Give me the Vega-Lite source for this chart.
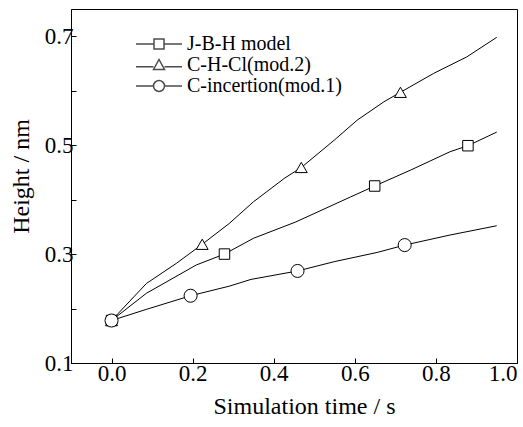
{
  "$schema": "https://vega.github.io/schema/vega-lite/v6.json",
  "width": 446,
  "height": 354,
  "autosize": {"type": "none"},
  "padding": {"left": 71, "top": 9, "right": 6, "bottom": 64},
  "background": "white",
  "config": {
    "font": "Liberation Serif",
    "view": {"stroke": "black", "strokeWidth": 1},
    "axis": {
      "domainColor": "black",
      "domainWidth": 1,
      "tickColor": "black",
      "tickWidth": 1,
      "tickSize": -5,
      "grid": false,
      "labelColor": "black",
      "titleColor": "black",
      "labelFont": "Liberation Serif",
      "titleFont": "Liberation Serif",
      "labelFontSize": 23,
      "titleFontSize": 24,
      "titleFontWeight": "normal"
    }
  },
  "datasets": {
    "curves": [
      {"model": "J-B-H model", "time": 0.0, "height": 0.178},
      {"model": "J-B-H model", "time": 0.086, "height": 0.228},
      {"model": "J-B-H model", "time": 0.209, "height": 0.28},
      {"model": "J-B-H model", "time": 0.2785, "height": 0.3},
      {"model": "J-B-H model", "time": 0.35, "height": 0.329},
      {"model": "J-B-H model", "time": 0.4545, "height": 0.359},
      {"model": "J-B-H model", "time": 0.5897, "height": 0.405},
      {"model": "J-B-H model", "time": 0.649, "height": 0.425},
      {"model": "J-B-H model", "time": 0.737, "height": 0.454},
      {"model": "J-B-H model", "time": 0.835, "height": 0.488},
      {"model": "J-B-H model", "time": 0.879, "height": 0.499},
      {"model": "J-B-H model", "time": 0.95, "height": 0.524},
      {"model": "C-H-Cl(mod.2)", "time": 0.0, "height": 0.178},
      {"model": "C-H-Cl(mod.2)", "time": 0.086, "height": 0.246},
      {"model": "C-H-Cl(mod.2)", "time": 0.16, "height": 0.283},
      {"model": "C-H-Cl(mod.2)", "time": 0.2236, "height": 0.318},
      {"model": "C-H-Cl(mod.2)", "time": 0.29, "height": 0.356},
      {"model": "C-H-Cl(mod.2)", "time": 0.35, "height": 0.396},
      {"model": "C-H-Cl(mod.2)", "time": 0.426, "height": 0.439},
      {"model": "C-H-Cl(mod.2)", "time": 0.468, "height": 0.459},
      {"model": "C-H-Cl(mod.2)", "time": 0.549, "height": 0.509},
      {"model": "C-H-Cl(mod.2)", "time": 0.606, "height": 0.546},
      {"model": "C-H-Cl(mod.2)", "time": 0.6715, "height": 0.5795},
      {"model": "C-H-Cl(mod.2)", "time": 0.7125, "height": 0.597},
      {"model": "C-H-Cl(mod.2)", "time": 0.794, "height": 0.6316},
      {"model": "C-H-Cl(mod.2)", "time": 0.876, "height": 0.662},
      {"model": "C-H-Cl(mod.2)", "time": 0.95, "height": 0.698},
      {"model": "C-incertion(mod.1)", "time": 0.0, "height": 0.178},
      {"model": "C-incertion(mod.1)", "time": 0.086, "height": 0.1985},
      {"model": "C-incertion(mod.1)", "time": 0.195, "height": 0.2235},
      {"model": "C-incertion(mod.1)", "time": 0.29, "height": 0.241},
      {"model": "C-incertion(mod.1)", "time": 0.344, "height": 0.2535},
      {"model": "C-incertion(mod.1)", "time": 0.4587, "height": 0.269},
      {"model": "C-incertion(mod.1)", "time": 0.549, "height": 0.286},
      {"model": "C-incertion(mod.1)", "time": 0.655, "height": 0.303},
      {"model": "C-incertion(mod.1)", "time": 0.723, "height": 0.3165},
      {"model": "C-incertion(mod.1)", "time": 0.835, "height": 0.335},
      {"model": "C-incertion(mod.1)", "time": 0.95, "height": 0.352}
    ],
    "markers": [
      {"model": "J-B-H model", "time": 0.0, "height": 0.178},
      {"model": "J-B-H model", "time": 0.2785, "height": 0.3},
      {"model": "J-B-H model", "time": 0.649, "height": 0.425},
      {"model": "J-B-H model", "time": 0.879, "height": 0.499},
      {"model": "C-H-Cl(mod.2)", "time": 0.0, "height": 0.178},
      {"model": "C-H-Cl(mod.2)", "time": 0.2236, "height": 0.318},
      {"model": "C-H-Cl(mod.2)", "time": 0.468, "height": 0.459},
      {"model": "C-H-Cl(mod.2)", "time": 0.7125, "height": 0.597},
      {"model": "C-incertion(mod.1)", "time": 0.0, "height": 0.178},
      {"model": "C-incertion(mod.1)", "time": 0.195, "height": 0.2235},
      {"model": "C-incertion(mod.1)", "time": 0.4587, "height": 0.269},
      {"model": "C-incertion(mod.1)", "time": 0.723, "height": 0.3165}
    ]
  },
  "encoding": {
    "x": {
      "field": "time",
      "type": "quantitative",
      "title": "Simulation time / s",
      "scale": {"domain": [-0.1, 1.0], "nice": false, "zero": false},
      "axis": {"values": [0, 0.2, 0.4, 0.6, 0.8, 1.0], "format": ".1f", "labelPadding": 4, "titlePadding": 9, "titleX": 233, "labelFont": "Liberation Serif", "titleFont": "Liberation Serif"}
    },
    "y": {
      "field": "height",
      "type": "quantitative",
      "title": "Height / nm",
      "scale": {"domain": [0.1, 0.75], "nice": false, "zero": false},
      "axis": {
        "values": [0.1, 0.2, 0.3, 0.4, 0.5, 0.6, 0.7],
        "labelExpr": "round(datum.value * 10) % 2 == 1 ? format(datum.value, '.1f') : ''",
        "labelPadding": 3,
        "titlePadding": 11,
        "titleY": 167,
        "labelFont": "Liberation Serif",
        "titleFont": "Liberation Serif"
      }
    }
  },
  "layer": [
    {
      "data": {"name": "curves"},
      "mark": {"type": "line", "color": "black", "strokeWidth": 1},
      "encoding": {"detail": {"field": "model"}}
    },
    {
      "data": {"name": "markers"},
      "mark": {"type": "point", "filled": true, "fill": "white", "stroke": "black", "strokeWidth": 1, "opacity": 1},
      "encoding": {
        "shape": {
          "field": "model",
          "scale": {"domain": ["J-B-H model", "C-H-Cl(mod.2)", "C-incertion(mod.1)"], "range": ["square", "triangle-up", "circle"]},
          "legend": null
        },
        "size": {
          "field": "model",
          "type": "nominal",
          "scale": {"domain": ["J-B-H model", "C-H-Cl(mod.2)", "C-incertion(mod.1)"], "range": [110, 170, 144]},
          "legend": null
        }
      }
    },
    {
      "data": {"name": "markers"},
      "transform": [{"filter": "datum.time > 5"}],
      "mark": {"type": "point", "filled": true, "fill": "white", "stroke": "black", "strokeWidth": 1},
      "encoding": {
        "shape": {
          "field": "model",
          "scale": {
            "domain": ["J-B-H model", "C-H-Cl(mod.2)", "C-incertion(mod.1)"],
            "range": [
              "M -4.6 0 L -1 0 M -1 -1 L 1 -1 L 1 1 L -1 1 Z M 1 0 L 4.6 0",
              "M -4.6 0.35 L -1.1 0.35 M -1.1 0.9 L 0 -1.1 L 1.1 0.9 Z M 1.1 0.35 L 4.6 0.35",
              "M -4.6 0 L -1.1 0 M -1.1 0 A 1.1 1.1 0 1 1 1.1 0 A 1.1 1.1 0 1 1 -1.1 0 Z M 1.1 0 L 4.6 0"
            ]
          },
          "legend": {
            "title": null,
            "orient": "none",
            "legendX": 78,
            "legendY": 25,
            "padding": 0,
            "symbolSize": 100,
            "labelFont": "Liberation Serif",
            "labelFontSize": 20,
            "labelColor": "black",
            "labelOffset": 18,
            "rowPadding": 1,
            "labelLimit": 300,
            "encode": {
              "symbols": {
                "update": {
                  "fill": {"value": "white"},
                  "stroke": {"value": "black"},
                  "strokeWidth": {"value": 1},
                  "opacity": {"value": 1},
                  "fillOpacity": {"value": 1},
                  "strokeOpacity": {"value": 1},
                  "size": {"value": 100}
                }
              }
            }
          }
        }
      }
    }
  ],
  "resolve": {"scale": {"shape": "independent", "size": "independent"}}
}
